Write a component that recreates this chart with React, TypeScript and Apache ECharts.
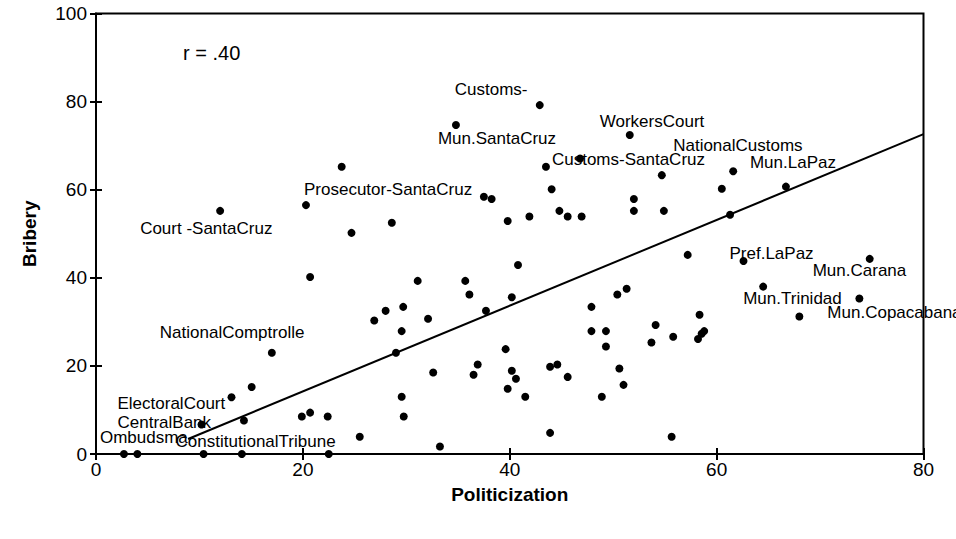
import React, { useEffect, useRef } from "react";
import * as echarts from "echarts";

// Politicization score of each agency (x)
const politicization = [
  23.75, 20.3, 12.0, 24.7, 42.9, 34.8, 51.6, 46.8, 43.5, 44.05,
  37.5, 38.25, 52.0, 54.7, 28.6, 39.8, 41.9, 44.8, 45.6, 46.95,
  52.0, 61.6, 60.5, 66.7, 54.9, 61.3, 20.7, 26.9, 17.0, 15.05,
  13.1, 10.2, 14.3, 19.9, 20.7, 22.4, 25.5, 2.7, 4.0, 10.4,
  14.1, 22.5, 40.8, 31.1, 35.7, 36.1, 40.2, 28.0, 29.7, 32.1,
  29.55, 37.7, 29.0, 39.6, 32.6, 36.9, 36.5, 40.2, 40.6, 39.8,
  41.5, 43.9, 44.6, 45.6, 29.55, 29.75, 33.25, 43.9, 47.9, 47.9,
  49.3, 49.3, 48.9, 50.4, 51.3, 50.6, 51.0, 54.1, 53.7, 57.2,
  62.6, 74.8, 64.5, 73.8, 68.0, 58.35, 55.8, 58.8, 58.55, 58.2,
  55.65,
];

// Bribery score of each agency (y)
const bribery = [
  65.2, 56.5, 55.2, 50.2, 79.2, 74.7, 72.4, 67.1, 65.2, 60.1,
  58.4, 57.9, 57.9, 63.3, 52.5, 52.9, 53.9, 55.2, 53.9, 53.9,
  55.2, 64.2, 60.2, 60.7, 55.2, 54.3, 40.2, 30.3, 23.0, 15.2,
  12.9, 6.7, 7.6, 8.5, 9.4, 8.5, 3.9, 0, 0, 0,
  0, 0, 42.9, 39.3, 39.3, 36.2, 35.6, 32.5, 33.4, 30.7,
  27.9, 32.5, 23.0, 23.8, 18.5, 20.3, 18.0, 18.9, 17.1, 14.8,
  13.0, 19.8, 20.3, 17.5, 13.0, 8.5, 1.7, 4.8, 33.4, 27.9,
  27.9, 24.4, 13.0, 36.2, 37.5, 19.4, 15.7, 29.3, 25.3, 45.2,
  43.8, 44.3, 38.0, 35.3, 31.2, 31.6, 26.6, 27.9, 27.3, 26.1,
  3.9,
];

// Agency names shown next to their dots ('' = unlabelled)
const agencies = [
  "", "Prosecutor-SantaCruz", "Court -SantaCruz", "", "Customs-", "Mun.SantaCruz", "WorkersCourt", "", "Customs-SantaCruz", "",
  "", "", "", "", "", "", "", "", "", "",
  "", "NationalCustoms", "", "Mun.LaPaz", "", "", "", "", "NationalComptrolle", "",
  "ElectoralCourt", "CentralBank", "", "", "", "", "", "Ombudsma", "", "ConstitutionalTribune",
  "", "", "", "", "", "", "", "", "", "",
  "", "", "", "", "", "", "", "", "", "",
  "", "", "", "", "", "", "", "", "", "",
  "", "", "", "", "", "", "", "", "", "",
  "Pref.LaPaz", "Mun.Carana", "Mun.Trinidad", "Mun.Copacabana", "", "", "", "", "", "",
  "",
];

// Regression line end points (politicization, bribery)
const fitLine = [
  [8.9, 3.4],
  [80, 72.6],
];

const correlationText = "r = .40";

// Label placement: [left edge of text, vertical middle of text] relative to the dot centre, in px
const labelOffsets: Record<string, [number, number]> = {
  "Customs-": [-85, -16],
  "Mun.SantaCruz": [-18, 14],
  WorkersCourt: [-30, -14],
  "Customs-SantaCruz": [6, -7],
  NationalCustoms: [-60, -26],
  "Mun.LaPaz": [-36, -24],
  "Prosecutor-SantaCruz": [-2, -16],
  "Court -SantaCruz": [-80, 18],
  NationalComptrolle: [-112, -20],
  ElectoralCourt: [-114, 6],
  CentralBank: [-84, -2],
  Ombudsma: [-24, -17],
  ConstitutionalTribune: [-28, -13],
  "Pref.LaPaz": [-14, -8],
  "Mun.Carana": [-57, 12],
  "Mun.Trinidad": [-20, 12],
  "Mun.Copacabana": [-32, 14],
};

const FONT = "Liberation Sans, Arial, Helvetica, sans-serif";

export default function App() {
  const ref = useRef<HTMLDivElement>(null);

  useEffect(() => {
    if (!ref.current) return;
    const chart = echarts.init(ref.current, null, { renderer: "svg" });

    const points = politicization.map((x, i) => {
      const name = agencies[i];
      const item: any = { value: [x, bribery[i]], name };
      if (name) {
        item.label = {
          show: true,
          formatter: name,
          position: "inside",
          align: "left",
          verticalAlign: "middle",
          offset: labelOffsets[name] || [4, -10],
          color: "#000",
          fontFamily: FONT,
          fontSize: 17,
        };
      }
      return item;
    });

    const black = "#000";

    chart.setOption({
      animation: false,
      backgroundColor: "#fff",
      grid: {
        left: 96,
        right: 32.5,
        top: 13.5,
        bottom: 85,
        show: true,
        borderColor: black,
        borderWidth: 2,
        backgroundColor: "transparent",
      },
      xAxis: [
        {
          type: "value",
          min: 0,
          max: 80,
          interval: 20,
          name: "Politicization",
          nameLocation: "middle",
          nameGap: 31,
          nameTextStyle: { color: black, fontFamily: FONT, fontSize: 19, fontWeight: "bold" },
          axisLine: { show: true, lineStyle: { color: black, width: 2 } },
          axisTick: { show: true, inside: false, length: 6, lineStyle: { color: black, width: 2 } },
          axisLabel: { color: black, fontFamily: FONT, fontSize: 19, margin: 6 },
          splitLine: { show: false },
        },
        {
          type: "value",
          position: "bottom",
          min: 0,
          max: 80,
          interval: 20,
          axisLine: { show: false },
          axisTick: { show: true, inside: true, length: 6, lineStyle: { color: black, width: 2 } },
          axisLabel: { show: false },
          splitLine: { show: false },
        },
      ],
      yAxis: [
        {
          type: "value",
          min: 0,
          max: 100,
          interval: 20,
          name: "Bribery",
          nameLocation: "middle",
          nameGap: 57,
          nameTextStyle: { color: black, fontFamily: FONT, fontSize: 19, fontWeight: "bold" },
          axisLine: { show: true, lineStyle: { color: black, width: 2 } },
          axisTick: { show: true, inside: false, length: 6, lineStyle: { color: black, width: 2 } },
          axisLabel: { color: black, fontFamily: FONT, fontSize: 19, margin: 9 },
          splitLine: { show: false },
        },
        {
          type: "value",
          position: "left",
          min: 0,
          max: 100,
          interval: 20,
          axisLine: { show: false },
          axisTick: { show: true, inside: true, length: 6, lineStyle: { color: black, width: 2 } },
          axisLabel: { show: false },
          splitLine: { show: false },
        },
      ],
      graphic: [
        {
          type: "text",
          x: 183,
          y: 53,
          style: {
            text: correlationText,
            fill: black,
            font: `20px ${FONT}`,
            verticalAlign: "middle",
            align: "left",
          },
        },
      ],
      series: [
        {
          type: "line",
          data: fitLine,
          symbol: "none",
          lineStyle: { color: black, width: 2 },
          silent: true,
          z: 2,
        },
        {
          type: "scatter",
          data: points,
          symbol: "circle",
          symbolSize: 8,
          itemStyle: { color: black, opacity: 1 },
          z: 3,
        },
      ],
    });

    return () => chart.dispose();
  }, []);

  return (
    <div
      ref={ref}
      style={{ position: "fixed", left: 0, top: 0, width: 956, height: 539, background: "#fff" }}
    />
  );
}
